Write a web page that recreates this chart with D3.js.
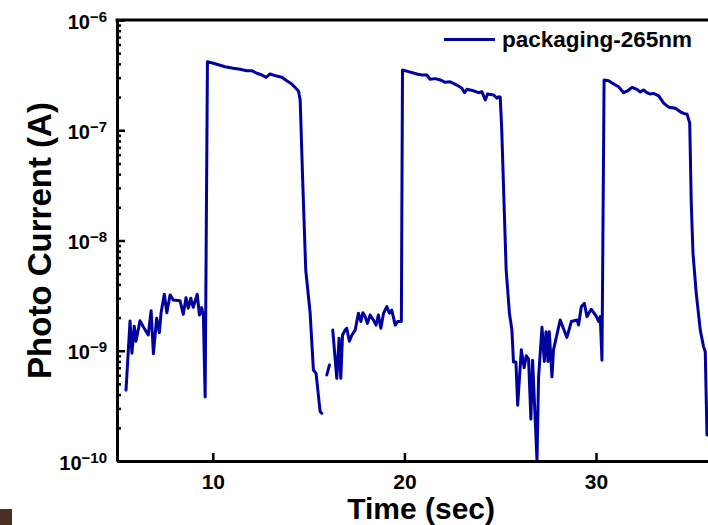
<!DOCTYPE html>
<html>
<head>
<meta charset="utf-8">
<script src="https://cdn.jsdelivr.net/npm/d3@7"></script>
<style>
	html, body { margin: 0; padding: 0; background: #fff; }
	svg { display: block; font-family: "Liberation Sans", Arial, sans-serif; font-weight: bold; }
</style>
</head>
<body>
<svg id="chart" width="708" height="525"></svg>
<script>
// time (s) and photo current (A), null = break in the trace
const time = [
	5.47, 5.68, 5.78, 5.90, 5.99, 6.20, 6.37, 6.63, 6.78, 6.90, 7.07, 7.21, 7.30, 7.47, 7.60, 7.77, 7.94, 8.29, 8.46, 8.60,
	8.72, 8.85, 8.98, 9.19, 9.30, 9.42, 9.51, 9.60,
	9.72, 10.03, 10.64, 11.07, 11.42, 11.77, 12.03, 12.30, 12.56, 12.78, 12.99, 13.34, 13.60, 13.86, 14.12, 14.47,
	14.56, 14.69, 14.85, 15.08, 15.25, 15.39, 15.60, 15.69,
	15.82, 15.95, 16.09, 16.17,
	16.26, 16.47, 16.59, 16.68, 16.77, 16.91, 16.99, 17.13, 17.26, 17.43, 17.60, 17.73, 17.83, 17.95, 18.07, 18.21,
	18.38, 18.52, 18.64, 18.77, 18.91, 19.08, 19.22, 19.34, 19.52, 19.64, 19.84,
	19.90, 20.21, 20.65, 20.91, 21.17, 21.34, 21.61, 21.87, 22.13, 22.39, 22.74, 23.00, 23.14, 23.26, 23.61, 23.87,
	24.04, 24.22, 24.34, 24.65, 24.83, 24.91, 25.00,
	25.08, 25.21, 25.31, 25.48, 25.61, 25.69, 25.82, 25.91, 26.10, 26.25, 26.36, 26.48, 26.60, 26.69, 26.92, 27.00,
	27.18, 27.30, 27.39, 27.49, 27.56, 27.70, 27.78, 28.13, 28.48, 28.71, 29.01, 29.09, 29.23, 29.39, 29.53, 29.75,
	30.00, 30.14, 30.22, 30.31,
	30.42, 30.66, 30.92, 31.18, 31.44, 31.65, 31.88, 32.14, 32.31, 32.48, 32.66, 32.83, 33.00, 33.27, 33.53, 33.79,
	34.14, 34.40, 34.58, 34.75, 34.89,
	34.97, 35.06, 35.23, 35.44, 35.61, 35.70, 35.79
];

const current = [
	4.4e-10, 1.86e-9, 9.5e-10, 1.67e-9, 1.22e-9, 1.87e-9, 1.65e-9, 1.39e-9, 2.31e-9, 9.4e-10, 1.97e-9, 1.46e-9, 2.21e-9, 3.25e-9, 2.21e-9, 3.21e-9, 2.88e-9, 2.84e-9, 2.14e-9, 3.03e-9,
	2.43e-9, 2.99e-9, 2.48e-9, 3.25e-9, 2.11e-9, 2.46e-9, 2.04e-9, 3.8e-10,
	4.19e-7, 4.05e-7, 3.77e-7, 3.65e-7, 3.57e-7, 3.47e-7, 3.47e-7, 3.29e-7, 3.17e-7, 3.02e-7, 3.24e-7, 3.10e-7, 3.02e-7, 2.81e-7, 2.63e-7, 2.27e-7,
	1.88e-7, 3.54e-8, 5.4e-9, 2.19e-9, 6.68e-10, 6.24e-10, 2.8e-10, 2.71e-10,
	null, 6.03e-10, 7.43e-10, null,
	1.54e-9, 5.62e-10, 1.30e-9, 5.62e-10, 1.39e-9, 1.54e-9, 1.60e-9, 1.22e-9, 1.39e-9, 1.54e-9, 2.19e-9, 1.84e-9, 2.21e-9, 2.04e-9, 1.77e-9, 2.11e-9,
	1.90e-9, 1.71e-9, 2.11e-9, 1.60e-9, 2.19e-9, 2.51e-9, 2.19e-9, 2.34e-9, 1.71e-9, 1.84e-9, 1.84e-9,
	3.52e-7, 3.40e-7, 3.24e-7, 3.17e-7, 3.17e-7, 2.90e-7, 2.94e-7, 2.86e-7, 2.72e-7, 2.75e-7, 2.57e-7, 2.40e-7, 2.19e-7, 2.35e-7, 2.28e-7, 2.19e-7,
	2.24e-7, 1.88e-7, 2.13e-7, 2.09e-7, 1.95e-7, 2.01e-7, 2.00e-7,
	1.0e-7, 1.89e-8, 5.4e-9, 2.19e-9, 1.54e-9, 7.9e-10, 7.9e-10, 3.2e-10, 1.02e-9, 7.0e-10, 9.0e-10, 8.4e-10, 2.4e-10, 8.2e-10, 1.0e-10, 5.7e-10,
	1.63e-9, 8.0e-10, 1.49e-9, 8.0e-10, 1.49e-9, 5.8e-10, 1.02e-9, 1.90e-9, 1.32e-9, 1.84e-9, 1.90e-9, 1.71e-9, 2.51e-9, 2.69e-9, 2.04e-9, 2.38e-9,
	2.07e-9, 1.84e-9, 2.04e-9, 8.2e-10,
	2.86e-7, 2.81e-7, 2.63e-7, 2.48e-7, 2.19e-7, 2.28e-7, 2.45e-7, 2.35e-7, 2.22e-7, 2.32e-7, 2.19e-7, 2.13e-7, 2.16e-7, 2.05e-7, 1.76e-7, 1.62e-7,
	1.58e-7, 1.47e-7, 1.42e-7, 1.40e-7, 1.16e-7,
	2.17e-8, 7.66e-9, 3.32e-9, 1.54e-9, 1.09e-9, 9.8e-10, 1.72e-10
];

const xTicks = [10, 20, 30];
const yMajor = [1e-10, 1e-9, 1e-8, 1e-7, 1e-6];
const yExponents = ["\u221210", "\u22129", "\u22128", "\u22127", "\u22126"];
const seriesName = "packaging-265nm";

const lineColor = "#0000a0";
const margin = {top: 20, left: 117, right: 711, bottom: 461};

const svg = d3.select("#chart");

const x = d3.scaleLinear().domain([5, 36]).range([margin.left, margin.right]);
const y = d3.scaleLog().domain([1e-10, 1e-6]).range([margin.bottom, margin.top]);

// minor ticks 2..9 in every decade
const yMinor = [];
yMajor.slice(0, -1).forEach(d => {
	for (let k = 2; k <= 9; k++) yMinor.push(d * k);
});

svg.append("defs").append("clipPath").attr("id", "plot-clip")
.append("rect")
.attr("x", margin.left)
.attr("y", margin.top)
.attr("width", margin.right - margin.left)
.attr("height", margin.bottom - margin.top);

const data = time.map((t, i) => [t, current[i]]);

const line = d3.line()
.defined(([, v]) => v !== null)
.x(([t]) => x(t))
.y(([, v]) => y(v));

svg.append("path")
.datum(data)
.attr("clip-path", "url(#plot-clip)")
.attr("fill", "none")
.attr("stroke", lineColor)
.attr("stroke-width", 3)
.attr("stroke-linejoin", "round")
.attr("stroke-linecap", "round")
.attr("d", line);

// x axis
const xAxis = svg.append("g")
.attr("transform", `translate(0, ${margin.bottom})`)
.call(d3.axisBottom(x).tickValues(xTicks).tickSizeInner(-8).tickSizeOuter(0).tickFormat(d3.format("d")));

xAxis.select(".domain").attr("stroke", "#000").attr("stroke-width", 3);
xAxis.selectAll(".tick line").attr("stroke", "#000").attr("stroke-width", 2.5);
xAxis.selectAll(".tick text")
.attr("y", 28)
.attr("dy", null)
.attr("fill", "#000")
.attr("font-size", 21)
.attr("font-family", "Liberation Sans, Arial, sans-serif")
.attr("font-weight", "bold");

// y axis: minor ticks first, then majors with labels
const yMinorAxis = svg.append("g")
.attr("transform", `translate(${margin.left}, 0)`)
.call(d3.axisLeft(y).tickValues(yMinor).tickSizeInner(-4).tickSizeOuter(0).tickFormat(""));
yMinorAxis.select(".domain").remove();
yMinorAxis.selectAll(".tick line").attr("stroke", "#000").attr("stroke-width", 2.5);

const yAxis = svg.append("g")
.attr("transform", `translate(${margin.left}, 0)`)
.call(d3.axisLeft(y).tickValues(yMajor).tickSizeInner(-8).tickSizeOuter(0).tickFormat(""));

yAxis.select(".domain").attr("stroke", "#000").attr("stroke-width", 3);
yAxis.selectAll(".tick line").attr("stroke", "#000").attr("stroke-width", 2.5);
yAxis.selectAll(".tick text").remove();

yAxis.selectAll(".tick")
.append("text")
.attr("x", -10)
.attr("y", 8)
.attr("text-anchor", "end")
.attr("fill", "#000")
.attr("font-size", 20)
.each(function(d, i) {
	const t = d3.select(this);
	t.append("tspan").text("10");
	t.append("tspan").attr("dy", -7).attr("font-size", 15).text(yExponents[i]);
});

// top frame line
svg.append("line")
.attr("x1", margin.left - 1.5)
.attr("x2", margin.right)
.attr("y1", margin.top)
.attr("y2", margin.top)
.attr("stroke", "#000")
.attr("stroke-width", 3);

// axis titles
svg.append("text")
.attr("x", 495)
.attr("y", 519)
.attr("text-anchor", "end")
.attr("font-size", 30)
.text("Time (sec)");

svg.append("text")
.attr("transform", `translate(51, ${(margin.top + margin.bottom) / 2}) rotate(-90)`)
.attr("text-anchor", "middle")
.attr("font-size", 33)
.text("Photo Current (A)");

// legend
const legend = svg.append("g").attr("transform", "translate(444, 39.5)");
legend.append("line")
.attr("x1", 0)
.attr("x2", 51)
.attr("stroke", lineColor)
.attr("stroke-width", 3);
legend.append("text")
.attr("x", 58)
.attr("y", 7.5)
.attr("font-size", 22.5)
.text(seriesName);

// small dark mark in the lower left corner
svg.append("rect")
.attr("x", 0)
.attr("y", 509)
.attr("width", 12)
.attr("height", 16)
.attr("fill", "#4d2e25");
</script>
</body>
</html>
